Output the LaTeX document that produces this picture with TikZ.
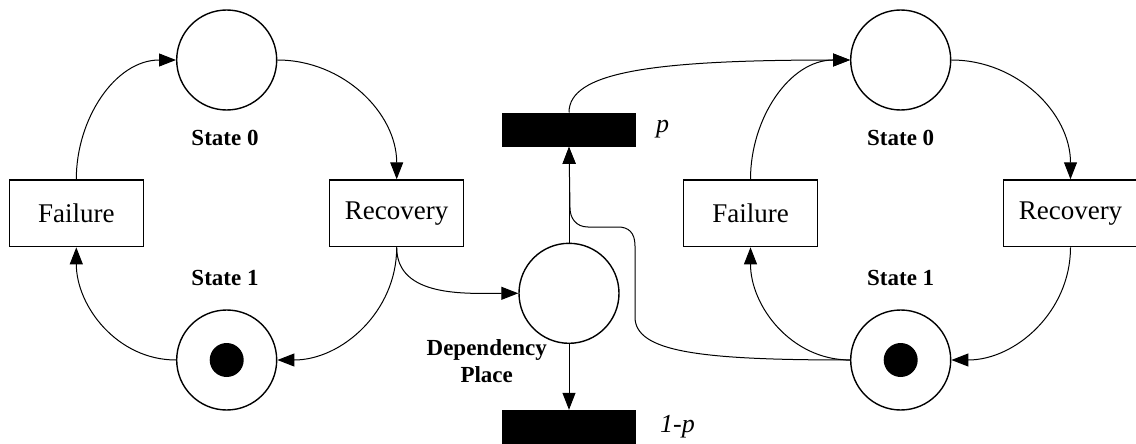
\documentclass[tikz,border=0pt]{standalone}
\usepackage{fontspec}
\setmainfont{Liberation Serif}
\usetikzlibrary{arrows.meta}
\begin{document}
\begin{tikzpicture}[x=1pt,y=-1pt,
  place/.style={circle,draw,line width=1.4pt,minimum size=100pt,inner sep=0pt},
  trans/.style={rectangle,draw,line width=1.4pt,minimum width=134pt,minimum height=66.7pt,inner sep=0pt,font=\fontsize{27}{30}\selectfont},
  bar/.style={rectangle,fill=black,minimum width=134pt,minimum height=34pt,inner sep=0pt},
  token/.style={circle,fill=black,minimum size=34pt,inner sep=0pt},
  lbl/.style={font=\bfseries\fontsize{23}{27}\selectfont,align=center},
  prob/.style={font=\itshape\fontsize{26}{30}\selectfont,anchor=west,inner sep=0pt},
  arc/.style={line width=1pt,-{Triangle[length=17pt,width=13pt]}},
  link/.style={line width=1pt}]
\useasboundingbox (0,0) rectangle (1136,444);

% left component
\node[place] (ls0) at (226.7,60) {};
\node[place] (ls1) at (226.7,360) {};
\node[token] (ltok) at (ls1) {};
\node[trans] (lfail) at (76.3,213.3) {Failure};
\node[trans] (lrec) at (396.7,213.3) {Recovery};
\node[lbl] (ll0) at (225,138) {State 0};
\node[lbl] (ll1) at (225,278) {State 1};

% dependency place and its two transitions
\node[place] (dep) at (569,293.3) {};
\node[bar] (pbar) at (569,129.7) {};
\node[bar] (qbar) at (569,427) {};
\node[prob] (plab) at (656,129) {p};
\node[prob] (qlab) at (660,427) {1-p};
\node[lbl] (deplab) at (486.7,361) {Dependency\\Place};

% right component
\node[place] (rs0) at (900.7,60) {};
\node[place] (rs1) at (900.7,360) {};
\node[token] (rtok) at (rs1) {};
\node[trans] (rfail) at (750.5,213.3) {Failure};
\node[trans] (rrec) at (1070.5,213.3) {Recovery};
\node[lbl] (rl0) at (900.7,138) {State 0};
\node[lbl] (rl1) at (900.7,278) {State 1};

% left cycle
\draw[arc] (lfail.north) to[out=90,in=180] (ls0.west);
\draw[arc] (ls0.east) to[out=0,in=90] (lrec.north);
\draw[arc] (lrec.south) to[out=-90,in=0] (ls1.east);
\draw[arc] (ls1.west) to[out=180,in=-90] (lfail.south);

% right cycle
\draw[arc] (rfail.north) to[out=90,in=180] (rs0.west);
\draw[arc] (rs0.east) to[out=0,in=90] (rrec.north);
\draw[arc] (rrec.south) to[out=-90,in=0] (rs1.east);
\draw[arc] (rs1.west) to[out=180,in=-90] (rfail.south);

% dependency arcs
\draw[arc] (lrec.south) to[out=-90,in=180] (dep.west);
\draw[arc] (dep.north) -- (pbar.south);
\draw[arc] (dep.south) -- (qbar.north);
\draw[arc] (pbar.north) .. controls +(0,-40) and +(-200,0) .. (rs0.west);

% inhibiting feedback from the right State 1 to transition p
\coordinate (kinkA) at (635,317);
\coordinate (kinkB) at (635,246);
\coordinate (kinkC) at (618,227);
\coordinate (kinkD) at (588,227);
\coordinate (kinkE) at (570,208);
\draw[arc] (rs1.west) .. controls +(-150,0) and +(0,35) .. (kinkA)
  -- (kinkB) .. controls +(0,-14) and +(10,0) .. (kinkC)
  -- (kinkD) .. controls +(-12,0) and +(0,10) .. (kinkE)
  -- (pbar.south);
\end{tikzpicture}
\end{document}
